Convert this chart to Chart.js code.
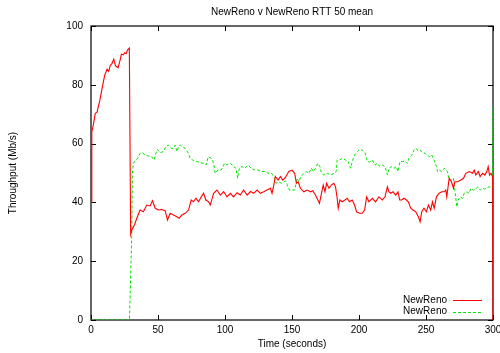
<!DOCTYPE html>
<html lang="en">
<head>
    <meta charset="UTF-8">
    <title>NewReno v NewReno RTT 50 mean</title>
    <script src="https://cdn.jsdelivr.net/npm/chart.js"></script>
    <style>
        body { margin: 0; background: #fff; }
        canvas { display: block; }
    </style>
</head>
<body>
    <canvas id="chart" width="500" height="353"></canvas>

    <script>
        // values (time in seconds, throughput in Mb/s)
        const redTime = [0, 0.6, 1.6, 3.2, 4.5, 6.5, 8.2, 10.2, 12, 13.2, 14.4, 15.7, 17, 18.2, 20.2, 21.5, 22.7, 24, 25.2, 26.2, 27.2, 28.6, 29.6,
            30.4, 32.4, 34.2, 36.6, 39.1, 41.6, 44.1, 45.9, 47.9, 50.3, 52.8, 55.3, 57.1, 59.1, 61.6, 64.1, 65.8, 67.8, 70.3, 72.8, 74.8, 76.5, 78.3,
            80.3, 82.3, 84, 85.8, 87.8, 89, 91.5, 94, 96.5, 99, 101.5, 104, 106.4, 109, 111.4, 113.9, 116.5, 119, 121.4, 124, 126.4, 128.9, 131.4,
            133.9, 135.1, 136.4, 137.6, 139.6, 141.4, 143.1, 145.1, 147.6, 150, 152, 153.3, 154.6, 156.3, 158.8, 161.3, 163.8, 165.5, 167.5, 169.3,
            170.5, 172, 173.3, 174.6, 175.8, 177.6, 179.3, 181.2, 182.5, 183.7, 184.5, 185.7, 187.5, 189.5, 191.2, 192.9, 194.9, 196.7, 198.2,
            200.4, 202.4, 204.2, 205.7, 207.4, 209.9, 212.4, 214.9, 217.4, 219.4, 221.2, 222.4, 223.7, 225.4, 227.4, 229.1, 230.4, 231.9, 233.6,
            235.4, 236.8, 238.6, 240.3, 242.3, 244.3, 245.6, 246.8, 248.5, 250.3, 251.8, 253.5, 254.8, 256.1, 257.8, 259.8, 261.8, 263.6, 264.8,
            265.5, 267.3, 269, 270.5, 271.5, 273.5, 276, 278, 279.7, 282.2, 284.7, 286, 287.2, 289, 290.4, 292.2, 293.9, 295.4, 296.4, 297.4,
            298.4, 299.7, 300];
        const redValues = [40, 64, 66, 70.3, 70.7, 74.5, 78.6, 83.2, 85.3, 84.6, 86.6, 87.3, 88.7, 86.5, 85.8, 88, 90.4, 90.2, 90.9, 90.6, 91.8, 92.5, 29.2,
            30.6, 32.3, 34.6, 37.4, 36.8, 39.1, 38.8, 40.6, 38, 37.4, 37.6, 37.2, 34, 36.3, 35.7, 35.1, 34.6, 35.7, 36.3, 37.4, 40.8, 40.2, 41.4,
            40.2, 41.9, 43.1, 40.8, 40.2, 39.1, 43.1, 44.2, 42.5, 43.7, 41.9, 43.1, 41.9, 43.3, 42.5, 44.2, 42.5, 43.7, 43.1, 44.2, 43.1, 43.6, 44.2,
            44.8, 43.1, 45.9, 48.8, 47.6, 48.8, 47.6, 48.5, 50.5, 51, 49.9, 46.5, 47, 44.8, 43.6, 44.2, 43.6, 44, 42.5, 40.8,
            39.7, 43.1, 45.9, 43.6, 46.5, 44.8, 45.9, 46.5, 45.3, 41.4, 38, 40.8, 40.2, 40.8, 41.4, 40.2, 40.8, 39.1, 36.8,
            36.3, 36.3, 37.4, 41.9, 40.2, 41.4, 40.2, 41.9, 40.8, 41.9, 45.3, 43.6, 43.1, 43.6, 42.5, 43.6, 40.8, 40.8, 41.4,
            40.8, 40.2, 38, 37.4, 36.8, 35.1, 33.4, 36.8, 38, 36.8, 39.1, 37.4, 40.2, 38, 41.9, 43.1, 43.6, 43.6, 44.2,
            41.9, 48.2, 47, 44.8, 47, 47, 47.6, 48.2, 49.9, 50.5, 49.9, 51, 49.3, 50.5, 48.8, 49.9, 49.3, 50.5, 52.2, 49.3,
            49.9, 48.8, 0];

        const greenTime = [0, 28.7, 30.4, 30.9, 31.6, 33.4, 34.9, 36.6, 38.3, 40.4, 42.8, 45.4, 47.1, 48.4, 49.6, 51.6, 54.1, 55.8, 57.8, 59.8,
            61.6, 62.8, 64.1, 65.3, 66.6, 68.3, 70.3, 72.7, 74, 76.5, 79, 81.5, 84, 85.8, 87.5, 89.7, 91.5, 92.7, 94.7, 97.2, 99.7, 101.4, 104,
            106.4, 108.2, 109.4, 110.7, 112.7, 114.7, 117.2, 119.6, 122.2, 124.6, 127.1, 129.6, 132.1, 134.6, 136.4, 138.1, 140.1, 142.1, 145.1,
            146.4, 148.1, 150, 152, 153.8, 155.1, 156.8, 158.8, 160.5, 162.5, 164.5, 165.8, 167.5, 169.3, 170.8, 172, 173.8, 176.3, 178.8, 181.2,
            183, 183.7, 185.5, 187.5, 190, 192, 193.7, 194.9, 196.7, 198.7, 200.4, 202.4, 204.4, 206.2, 207.9, 209.9, 211.9, 213.7, 215.4, 217.4,
            219.4, 221.2, 222.4, 224.4, 226.1, 227.9, 229.1, 230.6, 232.4, 234.4, 236.1, 237.3, 239.3, 241.1, 242.3, 244.1, 245.6, 247.3, 249.3,
            251, 252.8, 254.3, 256, 257.8, 258.6, 259.8, 261.8, 263.6, 264.8, 266, 267.3, 269, 270.5, 271.5, 273, 274, 275.5, 277.3, 278.5, 280.5,
            282.2, 283.5, 285.5, 287.2, 288.5, 290.4, 292.2, 293.9, 295.9, 298, 299.7, 300];
        const greenValues = [0, 0, 28.3, 49.9, 53.3, 54.4, 55, 56.7, 56.9, 56.1, 55.8, 55.5, 54.4, 56.7, 58, 56.9, 57.3, 59, 59.5, 58.4,
            58.4, 59.5, 57.3, 58.9, 59.5, 58.9, 58.4, 56.7, 55, 54.2, 53.9, 53.5, 53.3, 52.7, 55.5, 55, 53.3, 49.9, 51, 51, 53.3, 52.7, 53.3,
            52.2, 51.6, 48.2, 51.6, 52.2, 51.6, 52.7, 51.6, 51, 51, 50.5, 50.5, 49.9, 50, 48.8, 46.5, 47, 46.5, 47.3,
            46, 44.2, 44.2, 44.2, 48.2, 47, 48.8, 49.9, 50.5, 49.9, 51.6, 50.5, 51.6, 53.3, 52.2, 49.9, 49.3, 49.9, 49.3, 49.9,
            50.5, 54.4, 54.4, 55, 54.4, 53.9, 51.6, 53.9, 56.1, 57.3, 58, 57.8, 57, 54, 53.7, 54.4, 52.7, 53.3, 52.2, 52.7,
            52.2, 49.3, 51.6, 52.2, 51.6, 52.2, 50.5, 53.9, 53.9, 54.1, 53.3, 55, 56, 57.8, 58.4, 57.6, 57.8, 56.9, 56.7,
            56.1, 55.5, 56.1, 54.4, 52.2, 50.5, 51, 50.5, 51.6, 51, 50.5, 47.6, 47.6, 48.2, 44.2, 38.5, 40.8, 41.9, 41.4, 43.1, 43.6,
            43.1, 44.8, 44.2, 44.5, 45.3, 44.2, 44.8, 44.5, 45.1, 45.3, 45.9, 73];

        const xTicks = [0, 50, 100, 150, 200, 250, 300];
        const yTicks = [0, 20, 40, 60, 80, 100];
        const seriesNames = ['NewReno', 'NewReno'];

        const FONT = { family: '"Liberation Sans", Arial, sans-serif', size: 10 };

        function toPoints(xs, ys) {
            return xs.map((x, i) => ({ x: x, y: ys[i] }));
        }

        // gnuplot style box with inward ticks on every side, plus the legend in the corner
        const framePlugin = {
            id: 'frame',
            beforeDatasetsDraw(chart) {
                const { ctx, chartArea: a, scales } = chart;
                const len = 5;
                ctx.save();
                ctx.strokeStyle = '#000';
                ctx.lineWidth = 1;
                ctx.beginPath();
                xTicks.forEach(v => {
                    const px = Math.round(scales.x.getPixelForValue(v)) + 0.5;
                    ctx.moveTo(px, a.bottom); ctx.lineTo(px, a.bottom - len);
                    ctx.moveTo(px, a.top); ctx.lineTo(px, a.top + len);
                });
                yTicks.forEach(v => {
                    const py = Math.round(scales.y.getPixelForValue(v)) + 0.5;
                    ctx.moveTo(a.left, py); ctx.lineTo(a.left + len, py);
                    ctx.moveTo(a.right, py); ctx.lineTo(a.right - len, py);
                });
                ctx.stroke();
                ctx.lineWidth = 1.2;
                ctx.strokeRect(a.left, a.top, a.right - a.left, a.bottom - a.top);
                ctx.restore();
            },
            afterDraw(chart) {
                const { ctx } = chart;
                ctx.save();
                ctx.font = FONT.size + 'px ' + FONT.family;
                ctx.textAlign = 'right';
                ctx.textBaseline = 'middle';
                chart.data.datasets.forEach((ds, i) => {
                    const y = 300 + i * 11.5;
                    ctx.fillStyle = '#000';
                    ctx.fillText(ds.label, 447, y);
                    ctx.strokeStyle = ds.borderColor;
                    ctx.lineWidth = 1;
                    ctx.setLineDash(ds.borderDash || []);
                    ctx.beginPath();
                    ctx.moveTo(453, Math.round(y) + 0.5);
                    ctx.lineTo(482, Math.round(y) + 0.5);
                    ctx.stroke();
                });
                ctx.restore();
            }
        };

        const chart = new Chart(document.getElementById('chart'), {
            type: 'line',
            data: {
                datasets: [{
                    label: seriesNames[0],
                    data: toPoints(redTime, redValues),
                    borderColor: '#ff0000',
                    borderWidth: 1.1,
                    pointRadius: 0,
                    tension: 0
                }, {
                    label: seriesNames[1],
                    data: toPoints(greenTime, greenValues),
                    borderColor: '#00e600',
                    borderWidth: 1,
                    borderDash: [3, 2],
                    pointRadius: 0,
                    tension: 0
                }]
            },
            options: {
                responsive: false,
                animation: false,
                layout: { padding: { left: 0, right: 0, top: 0, bottom: 0 } },
                plugins: {
                    legend: { display: false },
                    tooltip: { enabled: false },
                    title: {
                        display: true,
                        text: 'NewReno v NewReno RTT 50 mean',
                        color: '#000',
                        font: { family: FONT.family, size: 10, weight: 'normal' },
                        fullSize: false,
                        padding: { top: 6, bottom: 8 }
                    }
                },
                scales: {
                    x: {
                        type: 'linear',
                        min: 0,
                        max: 300,
                        afterFit(scale) { scale.height = 33; scale.paddingRight = 7; },
                        afterBuildTicks(scale) { scale.ticks = xTicks.map(v => ({ value: v })); },
                        grid: { display: false, drawTicks: false },
                        border: { display: false },
                        ticks: { color: '#000', font: FONT, padding: 4, maxRotation: 0 },
                        title: { display: true, text: 'Time (seconds)', color: '#000', font: FONT, padding: { top: 0, bottom: 3 } }
                    },
                    y: {
                        min: 0,
                        max: 100,
                        afterFit(scale) { scale.width = 91; },
                        afterBuildTicks(scale) { scale.ticks = yTicks.map(v => ({ value: v })); },
                        grid: { display: false, drawTicks: false },
                        border: { display: false },
                        ticks: { color: '#000', font: FONT, padding: 8 },
                        title: { display: true, text: 'Throughput (Mb/s)', color: '#000', font: FONT, padding: { top: 7, bottom: 0 } }
                    }
                }
            },
            plugins: [framePlugin]
        });
    </script>
</body>
</html>
